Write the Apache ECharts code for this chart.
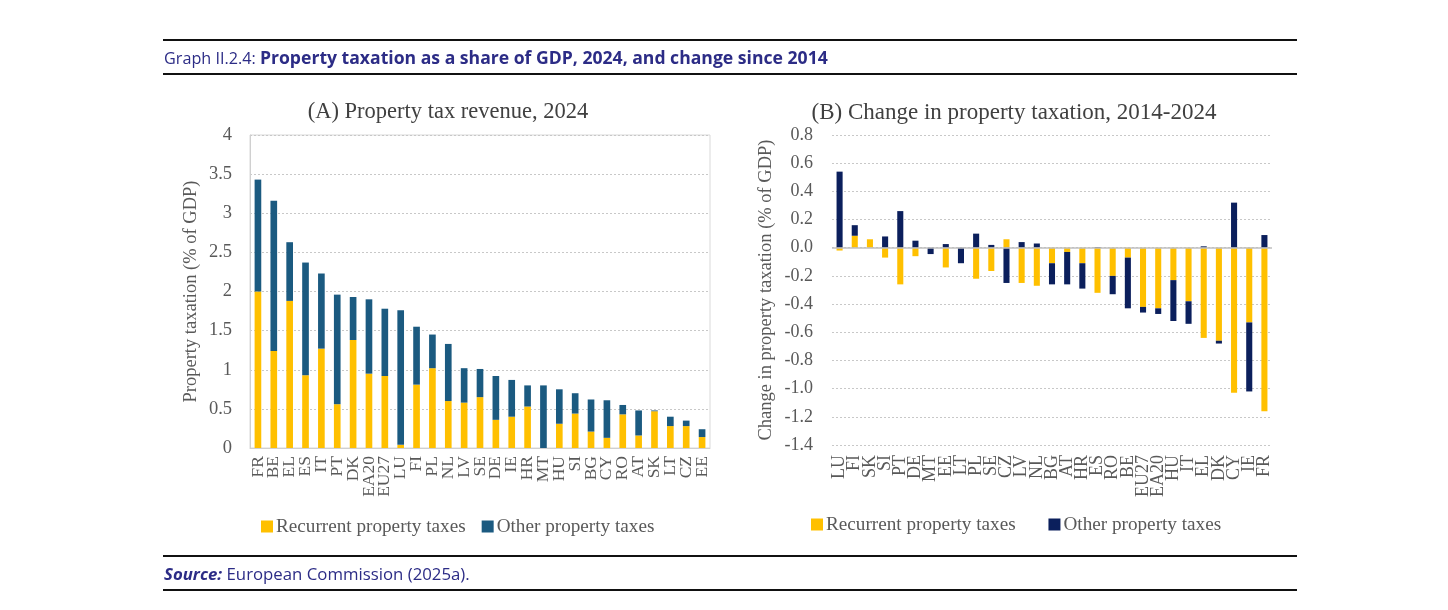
<!DOCTYPE html>
<html>
<head>
<meta charset="utf-8">
<script src="https://cdn.jsdelivr.net/npm/echarts@6/dist/echarts.min.js"></script>
<style>
html,body{margin:0;padding:0;background:#fff;}
#wrap{position:relative;width:1448px;height:610px;overflow:hidden;}
#chart{position:absolute;left:0;top:0;width:1448px;height:610px;}
.rule{position:absolute;left:163px;width:1134px;height:2px;background:#111;}
.hdr{position:absolute;left:164px;font-family:"Open Sans","Noto Sans",sans-serif;color:#2c2c86;white-space:nowrap;}
</style>
</head>
<body>
<div id="wrap">
<div id="chart"></div>
<div class="rule" style="top:39px"></div>
<div class="rule" style="top:73px"></div>
<div class="hdr" style="top:45px;font-size:16.2px">Graph II.2.4: <b style="font-size:17.6px">Property taxation as a share of GDP, 2024, and change since 2014</b></div>
<div class="rule" style="top:555px"></div>
<div class="rule" style="top:589px"></div>
<div class="hdr" style="top:562px;font-size:16.8px"><b><i>Source:</i></b> European Commission (2025a).</div>
</div>
<script>
// Panel A: property tax revenue 2024 (% of GDP)
var catsA = ['FR','BE','EL','ES','IT','PT','DK','EA20','EU27','LU','FI','PL','NL','LV','SE','DE','IE','HR','MT','HU','SI','BG','CY','RO','AT','SK','LT','CZ','EE'];
var recurrentA = [2.00,1.24,1.88,0.93,1.27,0.56,1.38,0.95,0.92,0.04,0.81,1.02,0.60,0.58,0.65,0.36,0.40,0.53,0.00,0.31,0.44,0.21,0.13,0.43,0.16,0.47,0.28,0.28,0.14];
var otherA = [1.43,1.92,0.75,1.44,0.96,1.40,0.55,0.95,0.86,1.72,0.74,0.43,0.73,0.44,0.36,0.56,0.47,0.27,0.80,0.44,0.26,0.41,0.48,0.12,0.32,0.01,0.12,0.07,0.10];

// Panel B: change in property taxation 2014-2024 (pp of GDP)
var catsB = ['LU','FI','SK','SI','PT','DE','MT','EE','LT','PL','SE','CZ','LV','NL','BG','AT','HR','ES','RO','BE','EU27','EA20','HU','IT','EL','DK','CY','IE','FR'];
var recurrentB = [-0.02,0.085,0.06,-0.07,-0.26,-0.06,0,-0.14,0,-0.22,-0.165,0.06,-0.25,-0.27,-0.11,-0.03,-0.11,-0.32,-0.20,-0.07,-0.42,-0.43,-0.23,-0.38,-0.64,-0.66,-1.03,-0.53,-1.16];
var otherB = [0.54,0.075,0,0.08,0.26,0.05,-0.045,0.026,-0.11,0.10,0.02,-0.25,0.04,0.03,-0.15,-0.23,-0.18,0.005,-0.13,-0.36,-0.04,-0.04,-0.29,-0.16,0.01,-0.02,0.32,-0.49,0.09];

var serif = '"Liberation Serif","DejaVu Serif",serif';
var grey = '#595959';
var yellow = '#FFC000';
var tealBlue = '#1B5A80';
var navy = '#0B1F5C';

var chart = echarts.init(document.getElementById('chart'), null, {renderer:'canvas'});
chart.setOption({
  animation:false,
  textStyle:{fontFamily:serif,color:grey},
  title:[
    {text:'(A) Property tax revenue, 2024',left:443,top:96,textAlign:'center',
     textStyle:{fontFamily:serif,fontSize:22.5,fontWeight:'normal',color:'#404040'}},
    {text:'(B) Change in property taxation, 2014-2024',left:1009,top:96,textAlign:'center',
     textStyle:{fontFamily:serif,fontSize:23,fontWeight:'normal',color:'#404040'}}
  ],
  legend:[
    {data:['Recurrent property taxes','Other property taxes'],left:256,top:512,itemWidth:12,itemHeight:12,itemGap:16,icon:'rect',
     textStyle:{fontFamily:serif,fontSize:19.2,color:grey,padding:[0,0,0,-2]}},
    {data:['Recurrent property taxes ','Other property taxes '],left:806,top:510,itemWidth:12,itemHeight:12,itemGap:28,icon:'rect',
     textStyle:{fontFamily:serif,fontSize:19.2,color:grey,padding:[0,0,0,-2]}}
  ],
  grid:[
    {left:250,top:135,width:460,height:313,show:true,borderColor:'#d9d9d9',borderWidth:1,containLabel:false},
    {left:832,top:135,width:440,height:310,containLabel:false}
  ],
  xAxis:[
    {type:'category',gridIndex:0,data:catsA,
     axisLine:{lineStyle:{color:'#d0d0d0'}},axisTick:{show:false},
     axisLabel:{interval:0,rotate:90,fontFamily:serif,fontSize:17.5,color:grey,margin:8}},
    {type:'category',gridIndex:1,data:catsB,
     axisLine:{show:false},axisTick:{show:false},
     axisLabel:{interval:0,rotate:90,fontFamily:serif,fontSize:18,color:grey,margin:10}}
  ],
  yAxis:[
    {type:'value',gridIndex:0,min:0,max:4,interval:0.5,
     name:'Property taxation (% of GDP)',nameLocation:'middle',nameGap:49,
     nameTextStyle:{fontFamily:serif,fontSize:18.5,color:grey},
     axisLine:{show:true,lineStyle:{color:'#d0d0d0'}},axisTick:{show:false},
     axisLabel:{fontFamily:serif,fontSize:18.5,color:grey,margin:18},
     splitLine:{lineStyle:{color:'#c8c8c8',type:[2,2]}}},
    {type:'value',gridIndex:1,min:-1.4,max:0.8,interval:0.2,
     name:'Change in property taxation (% of GDP)',nameLocation:'middle',nameGap:56,
     nameTextStyle:{fontFamily:serif,fontSize:18.5,color:grey},
     axisLine:{show:false},axisTick:{show:false},
     axisLabel:{fontFamily:serif,fontSize:18,color:grey,margin:19,
       formatter:function(v){return Math.abs(v)<1e-9?'0.0':v.toFixed(1);}},
     splitLine:{lineStyle:{color:'#c8c8c8',type:[2,2]}}}
  ],
  series:[
    {name:'Recurrent property taxes',type:'bar',xAxisIndex:0,yAxisIndex:0,stack:'a',data:recurrentA,
     barWidth:'42%',itemStyle:{color:yellow}},
    {name:'Other property taxes',type:'bar',xAxisIndex:0,yAxisIndex:0,stack:'a',data:otherA,
     barWidth:'42%',itemStyle:{color:tealBlue}},
    {name:'Recurrent property taxes ',type:'bar',xAxisIndex:1,yAxisIndex:1,stack:'b',data:recurrentB,
     barWidth:'40%',itemStyle:{color:yellow},
     markLine:{silent:true,symbol:'none',label:{show:false},lineStyle:{color:'#bfbfbf',type:'solid',width:1.5},
       data:[{yAxis:0}]}},
    {name:'Other property taxes ',type:'bar',xAxisIndex:1,yAxisIndex:1,stack:'b',data:otherB,
     barWidth:'40%',itemStyle:{color:navy}}
  ]
});
</script>
</body>
</html>
